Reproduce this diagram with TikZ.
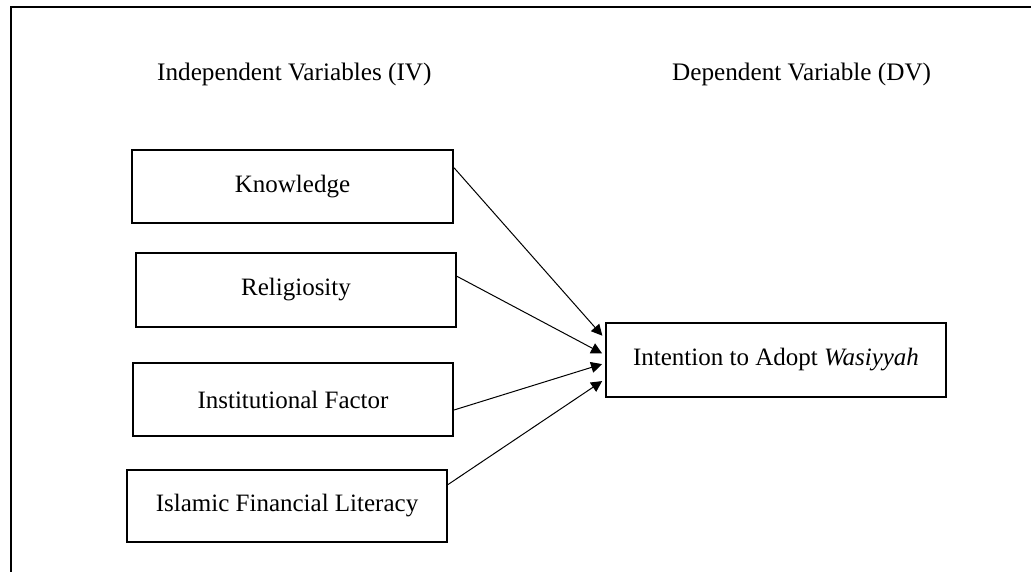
\documentclass[tikz,border=0pt]{standalone}
\usepackage{fontspec}
\setmainfont{Liberation Serif}
\usetikzlibrary{arrows.meta,calc}
\begin{document}
\begin{tikzpicture}[x=1pt,y=-1pt,
  varbox/.style={draw,line width=2pt,rectangle,inner sep=0pt,
    font=\fontsize{25}{30}\selectfont},
  heading/.style={font=\fontsize{25.2}{30}\selectfont,inner sep=0pt,anchor=west},
  link/.style={line width=1pt,-{Triangle[length=11pt,width=11pt]},shorten >=1pt}]
  \useasboundingbox (0,0) rectangle (1031,571);
  % outer frame (only top and left edges fall inside the page)
  \draw[line width=2pt] (11,572) -- (11,7) -- (1032,7);

  % column headings
  \node[heading] (iv) at (157,74) {Independent Variables (IV)};
  \node[heading] (dv) at (672,74) {Dependent Variable (DV)};

  % independent variables
  \node[varbox,minimum width=321pt,minimum height=73pt] (k) at (292.5,186.5) {Knowledge};
  \node[varbox,minimum width=320pt,minimum height=74pt] (r) at (296,290) {Religiosity};
  \node[varbox,minimum width=320pt,minimum height=73pt] (i) at (293,399.5) {Institutional Factor};
  \node[varbox,minimum width=320pt,minimum height=72pt] (l) at (287,506) {Islamic Financial Literacy};

  % dependent variable
  \node[varbox,minimum width=340pt,minimum height=74pt] (t) at (776,360) {Intention to Adopt \textit{Wasiyyah}};

  % paths
  \draw[link] ($(k.north east)!0.25!(k.south east)$) -- ($(t.north west)!0.19!(t.south west)+(-2,0)$);
  \draw[link] ($(r.north east)!0.32!(r.south east)$) -- ($(t.north west)!0.42!(t.south west)+(-2,0)$);
  \draw[link] ($(i.north east)!0.64!(i.south east)$) -- ($(t.north west)!0.55!(t.south west)+(-2,0)$);
  \draw[link] ($(l.north east)!0.21!(l.south east)$) -- ($(t.north west)!0.77!(t.south west)+(-2,0)$);
\end{tikzpicture}
\end{document}
